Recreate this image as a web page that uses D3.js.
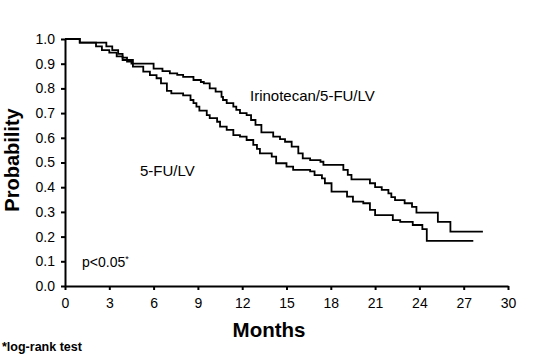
<!DOCTYPE html>
<html><head><meta charset="utf-8">
<script src="https://cdn.jsdelivr.net/npm/d3@7"></script>
<style>body{margin:0;background:#fff}svg{display:block}text{font-family:Arial,"Liberation Sans",sans-serif;fill:#000}</style>
</head><body>
<script>
// Kaplan-Meier step points [month, survival probability]
const irinotecanMonths = [0,1.0,2.8,3.2,3.6,3.9,4.2,4.5,6.0,6.6,7.1,7.6,8.0,8.7,9.2,9.4,9.8,10.2,10.6,10.7,10.95,11.4,11.6,11.85,12.3,12.6,12.9,13.3,14.1,14.56,14.9,15.35,15.8,16.1,16.6,17.3,17.5,18.85,19.15,19.4,20.65,21.0,21.45,21.9,22.1,22.35,23.0,23.5,23.8,25.25,26.1,28.3];
const irinotecanProb   = [1.0,0.985,0.97,0.955,0.94,0.925,0.908,0.90,0.88,0.87,0.861,0.855,0.847,0.834,0.826,0.82,0.80,0.787,0.766,0.753,0.74,0.726,0.713,0.70,0.692,0.672,0.652,0.622,0.605,0.595,0.584,0.564,0.537,0.517,0.51,0.503,0.49,0.47,0.45,0.432,0.416,0.40,0.389,0.375,0.36,0.348,0.335,0.32,0.297,0.26,0.22,0.22];
const fuMonths = [0,1.0,2.1,2.5,3.0,3.5,3.9,4.6,5.3,5.75,6.2,6.5,6.9,7.2,8.0,8.5,8.7,8.9,9.1,9.6,9.8,10.3,10.5,10.95,11.4,11.85,12.3,12.75,13.0,13.2,14.0,14.3,15.0,15.45,16.6,16.9,17.4,17.6,18.05,19.1,19.5,20.2,20.65,21.0,22.2,22.7,23.55,24.2,24.5,27.65];
const fuProb   = [1.0,0.985,0.97,0.955,0.945,0.93,0.915,0.888,0.868,0.854,0.841,0.82,0.79,0.78,0.772,0.753,0.74,0.726,0.71,0.692,0.68,0.665,0.645,0.632,0.611,0.605,0.591,0.571,0.555,0.537,0.524,0.497,0.483,0.47,0.464,0.449,0.436,0.416,0.382,0.362,0.342,0.335,0.308,0.287,0.267,0.26,0.247,0.23,0.183,0.183];
const xTicks = [0,3,6,9,12,15,18,21,24,27,30];
const yTicks = [0,0.1,0.2,0.3,0.4,0.5,0.6,0.7,0.8,0.9,1.0];
const seriesLabels = ["Irinotecan/5-FU/LV","5-FU/LV"];

const W=534,H=358;
const svg=d3.select("body").append("svg").attr("width",W).attr("height",H);
const x=d3.scaleLinear().domain([0,30]).range([65,508]);
const y=d3.scaleLinear().domain([0,1]).range([286,39]);

const xAxis=svg.append("g").attr("transform","translate(0,286)")
  .call(d3.axisBottom(x).tickValues(xTicks).tickSize(4).tickSizeOuter(0).tickPadding(8).tickFormat(d3.format("d")));
const yAxis=svg.append("g").attr("transform","translate(65,0)")
  .call(d3.axisLeft(y).tickValues(yTicks).tickSize(4).tickSizeOuter(0).tickPadding(6).tickFormat(d3.format(".1f")));
[xAxis,yAxis].forEach(g=>{
  g.select(".domain").attr("stroke","#000").attr("stroke-width",2);
  g.selectAll(".tick line").attr("stroke","#000").attr("stroke-width",2);
  g.selectAll(".tick text").attr("font-size",14).attr("font-family",'Arial,"Liberation Sans",sans-serif').attr("fill","#000");
});

const line=d3.line().x(d=>x(d[0])).y(d=>y(d[1])).curve(d3.curveStepAfter);
const sA=irinotecanMonths.map((m,i)=>[m,irinotecanProb[i]]);
const sB=fuMonths.map((m,i)=>[m,fuProb[i]]);
[sA,sB].forEach(s=>svg.append("path").datum(s).attr("d",line).attr("fill","none").attr("stroke","#000").attr("stroke-width",1.8));

svg.append("text").attr("x",250).attr("y",101).attr("font-size",15).text(seriesLabels[0]);
svg.append("text").attr("x",140).attr("y",176).attr("font-size",15).text(seriesLabels[1]);
const p=svg.append("text").attr("x",82).attr("y",267).attr("font-size",14);
p.append("tspan").text("p<0.05");
p.append("tspan").attr("font-size",9).attr("dy",-5).text("*");

svg.append("text").attr("transform","translate(19,160) rotate(-90)").attr("text-anchor","middle")
  .attr("font-size",20).attr("font-weight","bold").text("Probability");
svg.append("text").attr("x",269).attr("y",337).attr("text-anchor","middle")
  .attr("font-size",20.5).attr("font-weight","bold").text("Months");
svg.append("text").attr("x",2).attr("y",351).attr("font-size",12.5).attr("font-weight","bold").text("*log-rank test");
</script>
</body></html>
